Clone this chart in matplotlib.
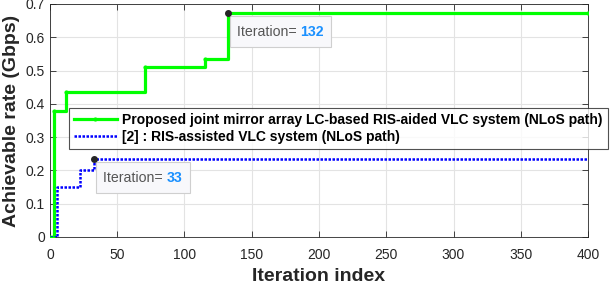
import matplotlib
matplotlib.use("Agg")
import matplotlib.pyplot as plt
from matplotlib.patches import Rectangle
from matplotlib.transforms import IdentityTransform

# step change points
prop_iter = [0, 2, 3, 12, 71, 115, 132, 400]
prop_rate = [0, 0, 0.38, 0.435, 0.51, 0.535, 0.672, 0.672]
ref_iter = [0, 4, 5, 22, 33, 400]
ref_rate = [0, 0, 0.15, 0.2, 0.235, 0.235]

tip_iters = [132, 33]
tip_rates = [0.672, 0.235]
tip_texts = ['132', '33']

label_prop = "Proposed joint mirror array LC-based RIS-aided VLC system (NLoS path)"
label_ref = "[2] : RIS-assisted VLC system (NLoS path)"

plt.rcParams['font.family'] = ['Liberation Sans', 'DejaVu Sans']

fig = plt.figure(figsize=(6.14, 2.84), dpi=100)
ax = fig.add_axes([0.0814, 0.1655, 0.8763, 0.8205])

ax.plot(prop_iter, prop_rate, drawstyle='steps-post', color='#00ff00', lw=2.3,
        marker='.', markersize=4, label=label_prop, zorder=3)
ax.plot(ref_iter, ref_rate, drawstyle='steps-post', color='#0000ff', lw=1.8,
        linestyle=(0, (1, 0.6)), label=label_ref, zorder=3)

ax.set_xlim(0, 400)
ax.set_ylim(0, 0.7)
ax.set_xticks(range(0, 401, 50))
ax.set_yticks([0, 0.1, 0.2, 0.3, 0.4, 0.5, 0.6, 0.7])
ax.set_yticklabels(['0', '0.1', '0.2', '0.3', '0.4', '0.5', '0.6', '0.7'])
ax.grid(True, color='#e3e3e3', lw=0.8)
ax.set_axisbelow(True)
ax.tick_params(direction='in', top=True, right=True, labelsize=10,
               colors='#262626', length=4, width=0.6)
ax.tick_params(axis='x', pad=8)
for s in ax.spines.values():
    s.set_color('#262626')
    s.set_linewidth(0.6)

ax.set_xlabel('Iteration index', fontsize=14, fontweight='bold', color='#262626', labelpad=4.5)
ax.set_ylabel('Achievable rate (Gbps)', fontsize=14, fontweight='bold', color='#262626', labelpad=4)

leg = ax.legend(loc='upper left', bbox_to_anchor=(69 / 614, 1 - 108 / 284),
                bbox_transform=fig.transFigure,
                prop={'weight': 'bold', 'size': 10}, frameon=True, fancybox=False,
                edgecolor='#262626', borderpad=0.35, labelspacing=0.25,
                handlelength=3.1, handletextpad=0.4, borderaxespad=0)
leg.get_frame().set_linewidth(0.8)
leg.set_zorder(4)

# data tips, MATLAB style
fig.canvas.draw()
renderer = fig.canvas.get_renderer()
for it, r, num in zip(tip_iters, tip_rates, tip_texts):
    ax.plot([it], [r], 'o', color='#262626', markersize=4, zorder=8, clip_on=False)
    t1 = ax.annotate('Iteration= ', xy=(it, r), xytext=(9, -19), textcoords='offset pixels',
                     ha='left', va='center', fontsize=10.2, color='#555555', zorder=7)
    fig.canvas.draw()
    bb1 = t1.get_window_extent(renderer)
    t2 = ax.annotate(num, xy=(it, r), xytext=(9 + bb1.width, -19), textcoords='offset pixels',
                     ha='left', va='center', fontsize=10.2, color='#1a90ff',
                     fontweight='bold', zorder=7)
    fig.canvas.draw()
    bb2 = t2.get_window_extent(renderer)
    px, py = ax.transData.transform((it, r))
    x0 = px + 2
    top = py - 3
    rect = Rectangle((x0, top - 31), bb2.x1 + 7 - x0, 31, transform=IdentityTransform(),
                     facecolor='#f8f8fb', edgecolor='#cfcfcf', lw=0.8, zorder=6,
                     clip_on=False)
    ax.add_patch(rect)

fig.savefig('out.png', dpi=100)
